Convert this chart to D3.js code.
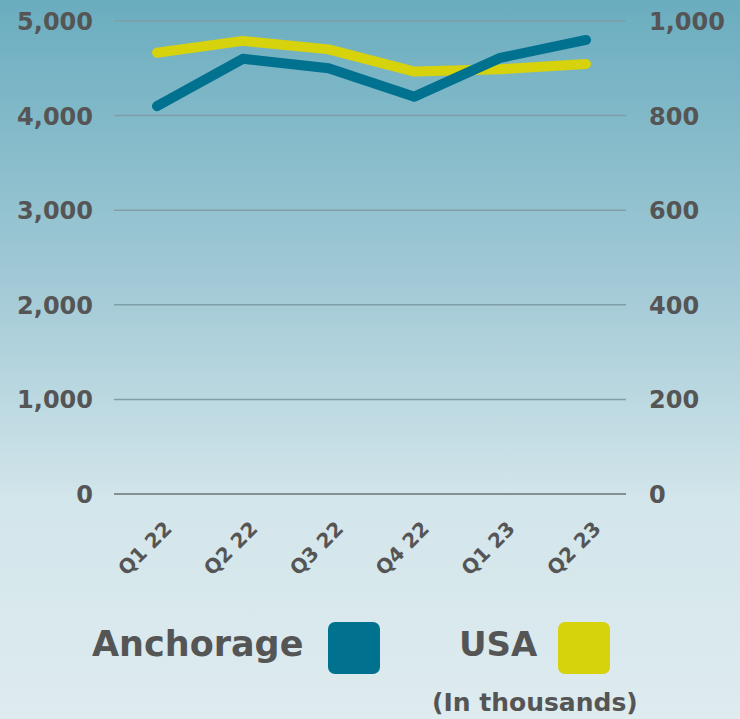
<!DOCTYPE html>
<html>
<head>
<meta charset="utf-8">
<script src="https://cdn.jsdelivr.net/npm/d3@7"></script>
<style>
  body { margin: 0; }
  svg { display: block; font-family: "DejaVu Sans", sans-serif; font-weight: 700; }
</style>
</head>
<body>
<svg id="chart" width="740" height="719"></svg>
<script>
const quarters = ["Q1 22", "Q2 22", "Q3 22", "Q4 22", "Q1 23", "Q2 23"];
const anchorage = [4100, 4600, 4500, 4200, 4610, 4800];
const usa = [933, 958, 940, 893, 898, 909];
const leftTicks = [0, 1000, 2000, 3000, 4000, 5000];
const rightTicks = [0, 200, 400, 600, 800, 1000];

const width = 740;
const height = 719;
const svg = d3.select("#chart");

// background gradient
const grad = svg.append("defs").append("linearGradient")
    .attr("id", "bg").attr("x1", 0).attr("y1", 0).attr("x2", 0).attr("y2", 1);
grad.append("stop").attr("offset", "0%").attr("stop-color", "#6aadbf");
grad.append("stop").attr("offset", "40%").attr("stop-color", "#a3cad6");
grad.append("stop").attr("offset", "70%").attr("stop-color", "#d3e6eb");
grad.append("stop").attr("offset", "100%").attr("stop-color", "#deebef");
svg.append("rect").attr("width", width).attr("height", height).attr("fill", "url(#bg)");

const x = d3.scalePoint().domain(quarters).range([157, 586]);
const yL = d3.scaleLinear().domain([0, 5000]).range([494, 21]);
const yR = d3.scaleLinear().domain([0, 1000]).range([494, 21]);

// gridlines
svg.append("g").selectAll("line")
    .data(leftTicks)
    .join("line")
    .attr("x1", 114).attr("x2", 626)
    .attr("y1", d => yL(d)).attr("y2", d => yL(d))
    .attr("stroke", d => d === 0 ? "#888f92" : "#7f9ea8")
    .attr("stroke-width", d => d === 0 ? 2 : 1.5);

// left axis labels
svg.append("g").selectAll("text")
    .data(leftTicks)
    .join("text")
    .attr("x", 93).attr("y", d => yL(d) + 9)
    .attr("text-anchor", "end")
    .attr("font-size", 24).attr("fill", "#555")
    .text(d => d3.format(",")(d));

// right axis labels
svg.append("g").selectAll("text")
    .data(rightTicks)
    .join("text")
    .attr("x", 649).attr("y", d => yR(d) + 9)
    .attr("text-anchor", "start")
    .attr("font-size", 24).attr("fill", "#555")
    .text(d => d3.format(",")(d));

// x labels
svg.append("g").selectAll("text")
    .data(quarters)
    .join("text")
    .attr("transform", d => `translate(${x(d) + 16},${530}) rotate(-45)`)
    .attr("text-anchor", "end")
    .attr("font-size", 20).attr("fill", "#555")
    .text(d => d);

const lineL = d3.line().x((d, i) => x(quarters[i])).y(d => yL(d));
const lineR = d3.line().x((d, i) => x(quarters[i])).y(d => yR(d));

svg.append("path")
    .datum(usa)
    .attr("d", lineR)
    .attr("fill", "none")
    .attr("stroke", "#d6d20c")
    .attr("stroke-width", 10)
    .attr("stroke-linecap", "round")
    .attr("stroke-linejoin", "round");

svg.append("path")
    .datum(anchorage)
    .attr("d", lineL)
    .attr("fill", "none")
    .attr("stroke", "#00718f")
    .attr("stroke-width", 10)
    .attr("stroke-linecap", "round")
    .attr("stroke-linejoin", "round");

// legend
const legend = svg.append("g").attr("fill", "#555");
legend.append("text").attr("x", 92).attr("y", 656)
    .attr("font-size", 35).text("Anchorage");
legend.append("rect").attr("x", 328).attr("y", 622).attr("width", 52).attr("height", 52)
    .attr("rx", 7).attr("fill", "#00718f");
legend.append("text").attr("x", 459).attr("y", 656)
    .attr("font-size", 34).text("USA");
legend.append("rect").attr("x", 558).attr("y", 622).attr("width", 52).attr("height", 52)
    .attr("rx", 7).attr("fill", "#d6d20c");
legend.append("text").attr("x", 432).attr("y", 711)
    .attr("font-size", 25).text("(In thousands)");
</script>
</body>
</html>
